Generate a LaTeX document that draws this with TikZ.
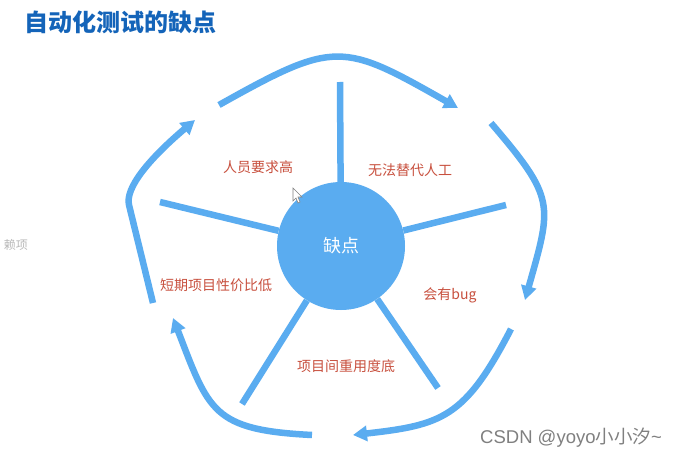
\documentclass[tikz,border=0pt]{standalone}
\usepackage{fontspec}
\newfontfamily\cjk{Noto Sans CJK SC}
\newfontfamily\latinsans{Liberation Sans}
\usetikzlibrary{arrows.meta}
\definecolor{lineblue}{RGB}{90,172,240}
\definecolor{titleblue}{RGB}{20,100,185}
\definecolor{labelred}{RGB}{200,80,62}
\definecolor{wmgray}{RGB}{128,128,128}
\definecolor{ghostgray}{RGB}{185,185,185}
\begin{document}
\begin{tikzpicture}[x=1pt,y=-1pt,
  spoke/.style={draw=lineblue,line width=6.5pt},
  flow/.style={draw=lineblue,line width=6.5pt,-{Triangle[length=14pt,width=15pt]}},
  lbl/.style={text=labelred,font=\cjk\fontsize{14}{16}\selectfont,inner sep=0pt},
  hub/.style={circle,fill=lineblue,minimum size=128pt,inner sep=0pt,text=white,font=\cjk\fontsize{18}{20}\selectfont}]
\useasboundingbox (0,0) rectangle (675,457);
\fill[white] (0,0) rectangle (675,457);

% title
\node[anchor=west,inner sep=0pt,text=titleblue,font=\cjk\bfseries\fontsize{24}{26}\selectfont] (title) at (24,22) {自动化测试的缺点};

% hub
\node[hub] (c) at (341,246) {缺点};

% spoke ends
\coordinate (s1) at (340,82);
\coordinate (s2) at (506,205);
\coordinate (s3) at (438,388);
\coordinate (s4) at (242,404);
\coordinate (s5) at (160,202);
\foreach \s in {s1,s2,s3,s4,s5} \draw[spoke] (c) -- (\s);

% outer arrows
\coordinate (a1s) at (219,105); \coordinate (a1e) at (458,108);
\coordinate (a2s) at (491,123); \coordinate (a2e) at (525,300);
\coordinate (a3s) at (511,329); \coordinate (a3e) at (353,435);
\coordinate (a4s) at (312,435); \coordinate (a4e) at (173,318);
\coordinate (a5s) at (153,303); \coordinate (a5m) at (129,205); \coordinate (a5e) at (195,120);
\draw[flow] (a1s) .. controls (335,40) and (342,42) .. (a1e);
\draw[flow] (a2s) .. controls (556,199) and (552,204) .. (a2e);
\draw[flow] (a3s) .. controls (465,418) and (442,425) .. (a3e);
\draw[flow] (a4s) .. controls (212,430) and (209,411) .. (a4e);
\draw[flow] (a5s) -- (a5m) .. controls (125,188) and (149,159) .. (a5e);

% labels
\node[lbl] (l1) at (258,167) {人员要求高};
\node[lbl] (l2) at (410,170) {无法替代人工};
\node[lbl] (l3) at (450,295) {会有bug};
\node[lbl] (l4) at (346,366) {项目间重用度底};
\node[lbl] (l5) at (216,285) {短期项目性价比低};

% partial text at left edge
\node[anchor=east,inner sep=0pt,text=ghostgray,font=\cjk\fontsize{12}{13}\selectfont] (ghost) at (28,245) {赖项};

% mouse cursor
\filldraw[fill=white,draw=gray,line width=0.6pt] (293,188) -- (293,201) -- (296,198) -- (298,203) -- (300,202) -- (298,197) -- (302,197) -- cycle;

% watermark
\node[anchor=west,inner sep=0pt,text=wmgray,font=\latinsans\fontsize{18.5}{20}\selectfont] (wm) at (480,438) {CSDN @yoyo{\cjk 小小汐}\textasciitilde};
\end{tikzpicture}
\end{document}
